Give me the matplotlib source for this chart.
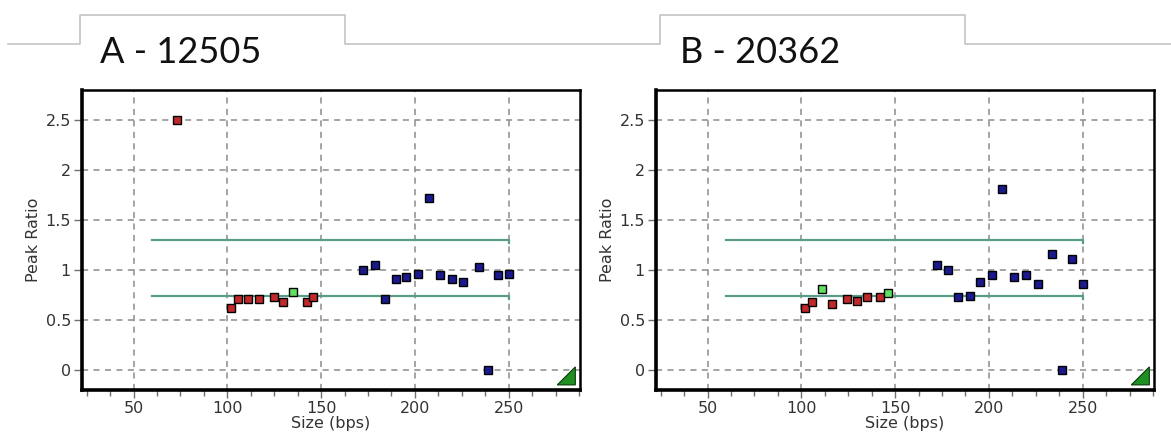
import matplotlib
matplotlib.use("Agg")
import matplotlib.pyplot as plt
from matplotlib.lines import Line2D
from matplotlib.patches import Polygon
from matplotlib.ticker import MultipleLocator

W, H = 1171, 438

# sample A - 12505
a_red_size = [73.4, 102.2, 105.8, 111.1, 116.6, 124.6, 129.8, 142.2, 145.9]
a_red_ratio = [2.5, 0.625, 0.71, 0.71, 0.71, 0.73, 0.68, 0.68, 0.73]
a_green_size = [135.2]
a_green_ratio = [0.78]
a_blue_size = [172.2, 178.6, 183.9, 189.9, 195.4, 201.6, 207.4, 213.4,
               219.6, 225.6, 234.0, 239.1, 244.5, 250.0]
a_blue_ratio = [1.0, 1.05, 0.71, 0.91, 0.93, 0.965, 1.725, 0.95,
                0.915, 0.885, 1.035, 0.0, 0.95, 0.965]

# sample B - 20362
b_red_size = [101.9, 105.8, 116.5, 124.1, 129.5, 135.1, 141.9]
b_red_ratio = [0.625, 0.68, 0.66, 0.71, 0.695, 0.73, 0.73]
b_green_size = [111.1, 146.2]
b_green_ratio = [0.81, 0.77]
b_blue_size = [172.1, 178.3, 183.7, 189.9, 195.2, 201.6, 207.1, 213.4,
               219.6, 226.0, 233.8, 239.1, 244.5, 250.0]
b_blue_ratio = [1.05, 1.0, 0.73, 0.745, 0.88, 0.95, 1.81, 0.935,
                0.95, 0.865, 1.165, 0.0, 1.115, 0.865]

# acceptance band
band_start, band_end = 60, 250
band_low, band_high = 0.74, 1.3

panels = [
    ("A - 12505", 82, (a_red_size, a_red_ratio), (a_green_size, a_green_ratio),
     (a_blue_size, a_blue_ratio)),
    ("B - 20362", 656, (b_red_size, b_red_ratio), (b_green_size, b_green_ratio),
     (b_blue_size, b_blue_ratio)),
]

fig = plt.figure(figsize=(W / 100, H / 100), dpi=100)


def px(x, y):
    return x / W, 1 - y / H


# tab outline across the top
tab_pts = [(8, 44), (80, 44), (80, 15), (345, 15), (345, 44), (660, 44),
           (660, 15), (965, 15), (965, 44), (1171, 44)]
xs, ys = zip(*[px(x, y) for x, y in tab_pts])
fig.add_artist(Line2D(xs, ys, transform=fig.transFigure, color="#c4c4c4", lw=1.2))

tick_col = "#333333"
for (title, left, red, green, blue), tx in zip(panels, [100, 680]):
    fig.text(*px(tx, 63), title, fontsize=26, family="Lato", va="baseline", color="#111111")

    ax = fig.add_axes([left / W, 48 / H, 498 / W, 300 / H])
    ax.set_xlim(22.5, 288)
    ax.set_ylim(-0.2, 2.8)
    ax.xaxis.set_major_locator(MultipleLocator(50))
    ax.xaxis.set_minor_locator(MultipleLocator(12.5))
    ax.set_yticks([0, 0.5, 1, 1.5, 2, 2.5])
    ax.set_yticklabels(["0", "0.5", "1", "1.5", "2", "2.5"])
    ax.grid(True, which="major", color="#8c8c8c", ls=(0, (4, 3.5)), lw=1.1)
    ax.set_axisbelow(True)

    ax.tick_params(axis="both", which="major", colors="#707070", labelcolor=tick_col,
                   labelsize=11.5, length=6, width=1)
    ax.tick_params(axis="x", which="minor", colors="#707070", length=4, width=1)
    ax.tick_params(axis="y", pad=2)
    ax.tick_params(axis="x", pad=2)
    for side in ["left", "bottom"]:
        ax.spines[side].set_linewidth(2.6)
    for side in ["top", "right"]:
        ax.spines[side].set_linewidth(1.8)

    ax.set_xlabel("Size (bps)", fontsize=11.5, color=tick_col, labelpad=0)
    ax.set_ylabel("Peak Ratio", fontsize=11.5, color=tick_col, labelpad=3)

    # band limits, with the small drop at the right end
    for y in (band_high, band_low):
        ax.plot([band_start, band_end, band_end], [y, y, y - 0.03],
                color="#5a9c8a", lw=1.6, zorder=2)

    mk = dict(ls="none", marker="s", markersize=6.2, mec="black", mew=1.0, zorder=3)
    ax.plot(*red, mfc="#c0282a", **mk)
    ax.plot(*green, mfc="#5fe05f", **mk)
    ax.plot(*blue, mfc="#1a1a8c", **mk)

    # corner marker in the lower right
    ax.add_patch(Polygon([(0.9906, 0.017), (0.9544, 0.017), (0.9906, 0.077)],
                         closed=True, transform=ax.transAxes, facecolor="#1f8f24",
                         edgecolor="#0a3a0a", lw=0.8, zorder=4))

fig.savefig("out.png", dpi=100)
